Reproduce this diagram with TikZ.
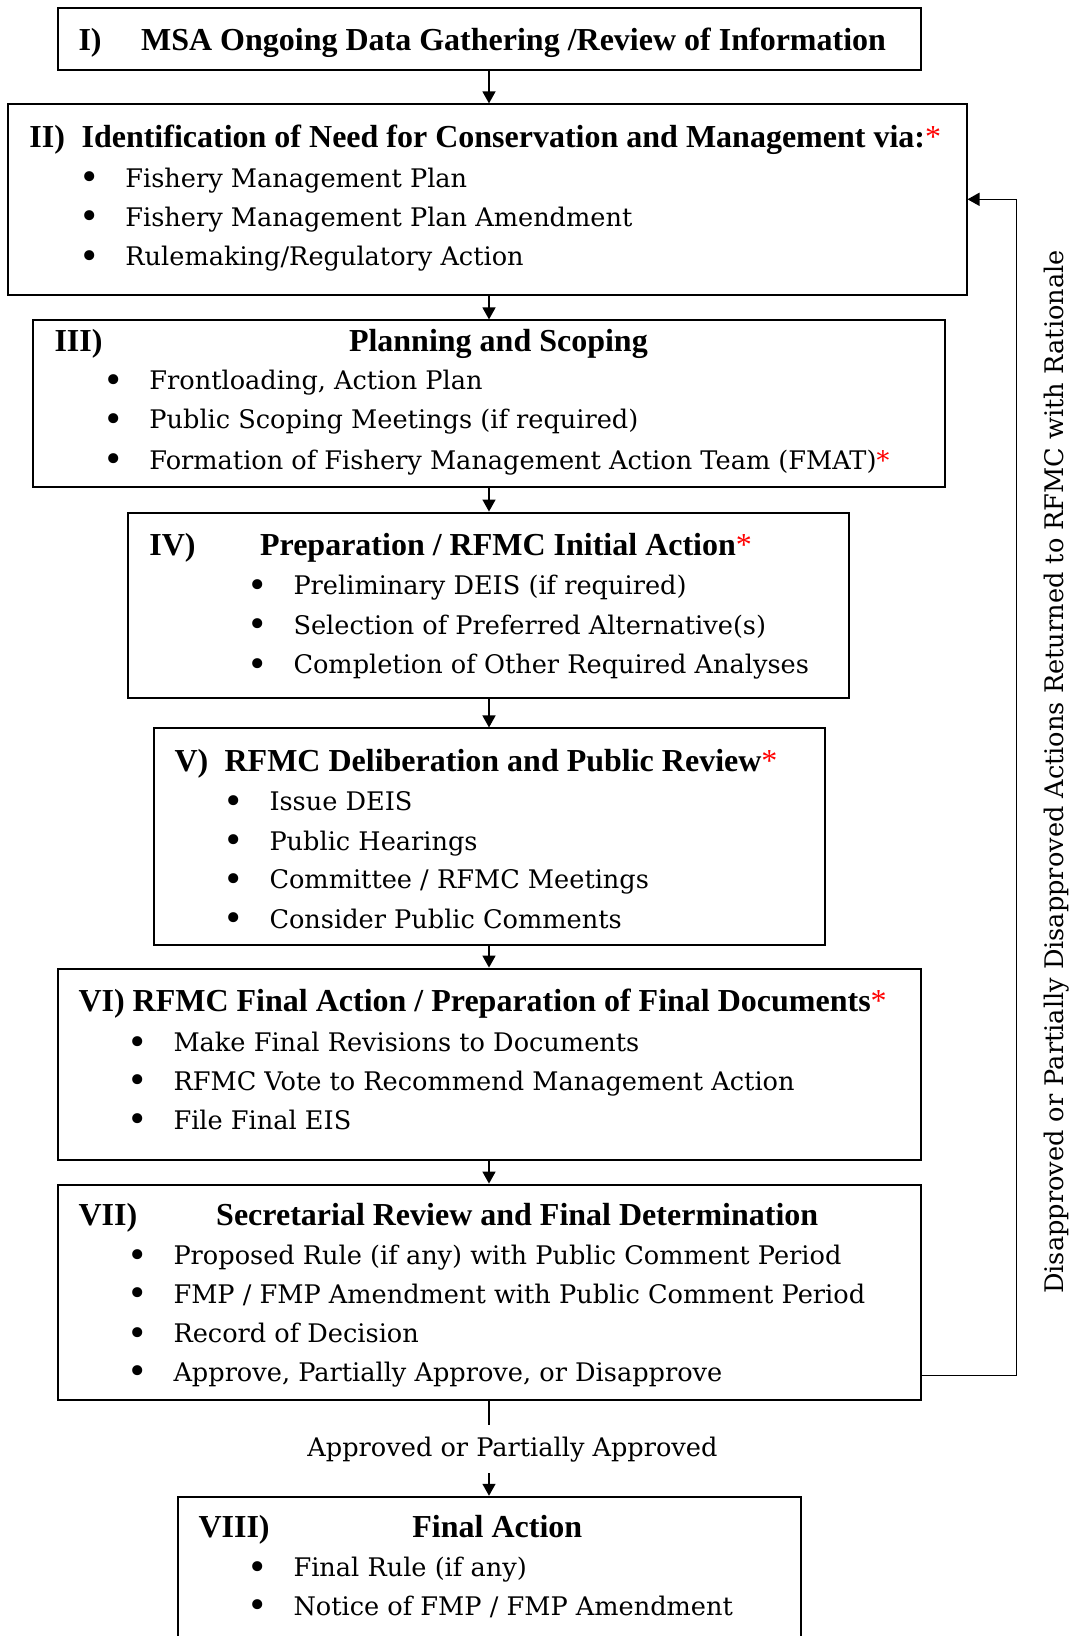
\documentclass[tikz,border=0pt]{standalone}
\usepackage{fontspec}
\setmainfont{Liberation Serif}
\newfontfamily\bodyfam{DejaVu Serif}
\usetikzlibrary{arrows.meta}

\newcommand{\bul}{\llap{\makebox[46pt][l]{\raisebox{-2.5pt}{\scalebox{1.35}{\textbullet}}}}}
\newcommand{\redstar}{\textcolor{red}{\mdseries*}}

\tikzset{
  stagebox/.style={draw, line width=2pt, inner sep=0pt},
  head/.style={anchor=base west, inner sep=0pt, font=\fontsize{32}{38}\selectfont\bfseries},
  item/.style={anchor=base west, inner sep=0pt, font=\bodyfam\fontsize{25.6}{31}\selectfont},
  link/.style={line width=1.5pt},
  flow/.style={link, -{Triangle[length=12pt,width=13pt]}}
}

\begin{document}
\begin{tikzpicture}[x=1pt,y=-1pt]
  \clip (0,0) rectangle (1075,1636);

  % stage boxes
  \node[stagebox, minimum width=863pt, minimum height=61.6pt] (b1) at (489,39.1) {};
  \node[stagebox, minimum width=958.2pt, minimum height=191pt] (b2) at (487.4,199.9) {};
  \node[stagebox, minimum width=911.2pt, minimum height=167pt] (b3) at (489,403.9) {};
  \node[stagebox, minimum width=720.1pt, minimum height=185.7pt] (b4) at (488.5,605.4) {};
  \node[stagebox, minimum width=671pt, minimum height=216.1pt] (b5) at (489,836.5) {};
  \node[stagebox, minimum width=863pt, minimum height=191pt] (b6) at (489,1064.1) {};
  \node[stagebox, minimum width=863pt, minimum height=215pt] (b7) at (489,1292.1) {};
  \node[stagebox, minimum width=623pt, minimum height=203.3pt] (b8) at (489,1598.4) {};

  % I
  \node[head] (n1) at (78.3,50.2) {I)};
  \node[head] (h1) at (140.9,50.2) {MSA Ongoing Data Gathering /Review of Information};

  % II
  \node[head] (n2) at (29.2,147.2) {II)};
  \node[head] (h2) at (81.4,147.2) {Identification of Need for Conservation and Management via:\redstar};
  \node[item] (i2a) at (125.2,187.4) {\bul Fishery Management Plan};
  \node[item] (i2b) at (125.2,226.0) {\bul Fishery Management Plan Amendment};
  \node[item] (i2c) at (125.2,265.7) {\bul Rulemaking/Regulatory Action};

  % III
  \node[head] (n3) at (54.3,351.8) {III)};
  \node[head, anchor=base] (h3) at (498.4,351.8) {Planning and Scoping};
  \node[item] (i3a) at (149.2,389.9) {\bul Frontloading, Action Plan};
  \node[item] (i3b) at (149.2,428.5) {\bul Public Scoping Meetings (if required)};
  \node[item] (i3c) at (149.2,469.2) {\bul Formation of Fishery Management Action Team (FMAT)\textcolor{red}{*}};

  % IV
  \node[head] (n4) at (149.2,555.3) {IV)};
  \node[head] (h4) at (259.9,555.3) {Preparation / RFMC Initial Action\redstar};
  \node[item] (i4a) at (293.3,594.5) {\bul Preliminary DEIS (if required)};
  \node[item] (i4b) at (293.3,634.1) {\bul Selection of Preferred Alternative(s)};
  \node[item] (i4c) at (293.3,673.8) {\bul Completion of Other Required Analyses};

  % V
  \node[head] (n5) at (174.3,771.4) {V)};
  \node[head] (h5) at (224.4,771.4) {RFMC Deliberation and Public Review\redstar};
  \node[item] (i5a) at (269.3,810.5) {\bul Issue DEIS};
  \node[item] (i5b) at (269.3,850.2) {\bul Public Hearings};
  \node[item] (i5c) at (269.3,888.8) {\bul Committee / RFMC Meetings};
  \node[item] (i5d) at (269.3,928.4) {\bul Consider Public Comments};

  % VI
  \node[head] (n6) at (78.3,1011.4) {VI)};
  \node[head] (h6) at (132.5,1011.4) {RFMC Final Action / Preparation of Final Documents\redstar};
  \node[item] (i6a) at (173.3,1051.6) {\bul Make Final Revisions to Documents};
  \node[item] (i6b) at (173.3,1090.2) {\bul RFMC Vote to Recommend Management Action};
  \node[item] (i6c) at (173.3,1129.0) {\bul File Final EIS};

  % VII
  \node[head] (n7) at (78.3,1225.4) {VII)};
  \node[head, anchor=base] (h7) at (517.2,1225.4) {Secretarial Review and Final Determination};
  \node[item] (i7a) at (173.3,1264.6) {\bul Proposed Rule (if any) with Public Comment Period};
  \node[item] (i7b) at (173.3,1303.1) {\bul FMP / FMP Amendment with Public Comment Period};
  \node[item] (i7c) at (173.3,1342.8) {\bul Record of Decision};
  \node[item] (i7d) at (173.3,1381.4) {\bul Approve, Partially Approve, or Disapprove};

  % VIII
  \node[head] (n8) at (198.3,1537.4) {VIII)};
  \node[head, anchor=base] (h8) at (497.3,1537.4) {Final Action};
  \node[item] (i8a) at (293.3,1576.6) {\bul Final Rule (if any)};
  \node[item] (i8b) at (293.3,1615.2) {\bul Notice of FMP / FMP Amendment};

  % side label and approval label
  \node[item, anchor=center, rotate=90] (ret) at (1057,772)
    {Disapproved or Partially Disapproved Actions Returned to RFMC with Rationale};
  \node[item, anchor=center, inner xsep=0pt, inner ysep=11.5pt] (ok) at (512.5,1449.2)
    {Approved or Partially Approved};

  % connectors
  \draw[flow] (b1.south) -- (b1.south |- b2.north);
  \draw[flow] (b2.south -| b1) -- (b1 |- b3.north);
  \draw[flow] (b3.south) -- (b3.south |- b4.north);
  \draw[flow] (b4.south -| b3) -- (b3 |- b5.north);
  \draw[flow] (b5.south) -- (b5.south |- b6.north);
  \draw[flow] (b6.south) -- (b6.south |- b7.north);
  \draw[link] (b7.south) -- (b7.south |- ok.north);
  \draw[flow] (b7.south |- ok.south) -- (b8.north);

  \coordinate (fb) at (1016.6,1375.6);
  \coordinate (fbtop) at (1016.6,199.3);
  \draw[flow] (b7.east |- fb) -- (fb) -- (fbtop) -- (b2.east |- fbtop);
\end{tikzpicture}
\end{document}
